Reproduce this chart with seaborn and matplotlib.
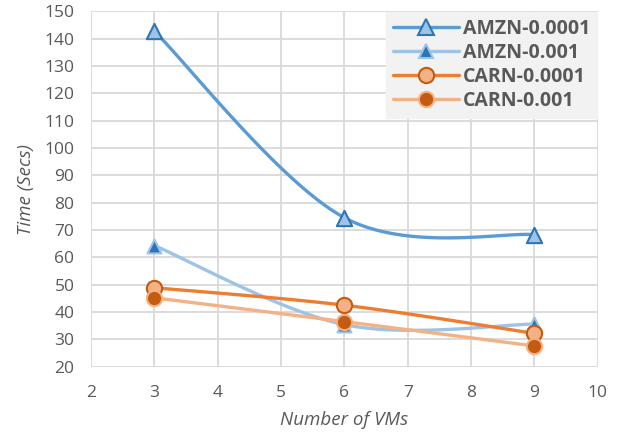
import numpy as np
import pandas as pd
import matplotlib
matplotlib.use("Agg")
import matplotlib.pyplot as plt
from matplotlib.lines import Line2D
import seaborn as sns

# ---- data ----
vms = [3, 6, 9]
series_names = ["AMZN-0.0001", "AMZN-0.001", "CARN-0.0001", "CARN-0.001"]
amzn_0001 = [142.7, 74.5, 68.3]
amzn_001 = [64.3, 35.4, 35.6]
carn_0001 = [48.9, 42.5, 32.2]
carn_001 = [45.2, 36.5, 27.6]
x_ticks = [2, 3, 4, 5, 6, 7, 8, 9, 10]
y_ticks = list(range(20, 151, 10))

values = [amzn_0001, amzn_001, carn_0001, carn_001]

styles = {
    "AMZN-0.0001": dict(line="#5B9BD5", marker="^", face="#9DC3E6", edge="#2E75B6", ms=11),
    "AMZN-0.001": dict(line="#9DC3E6", marker="^", face="#2E75B6", edge="#9DC3E6", ms=10),
    "CARN-0.0001": dict(line="#ED7D31", marker="o", face="#F4B183", edge="#C55A11", ms=11),
    "CARN-0.001": dict(line="#F4B183", marker="o", face="#C55A11", edge="#F4B183", ms=11),
}


def excel_smooth(xs, ys, n=60):
    """Catmull-Rom style Bezier smoothing like Excel's smoothed line."""
    pts = np.column_stack([xs, ys]).astype(float)
    m = len(pts)
    out = []
    for i in range(m - 1):
        p0 = pts[max(i - 1, 0)]
        p1 = pts[i]
        p2 = pts[i + 1]
        p3 = pts[min(i + 2, m - 1)]
        c1 = p1 + (p2 - p0) / 6.0
        c2 = p2 - (p3 - p1) / 6.0
        t = np.linspace(0, 1, n)[:, None]
        seg = ((1 - t) ** 3) * p1 + 3 * ((1 - t) ** 2) * t * c1 + 3 * (1 - t) * t ** 2 * c2 + t ** 3 * p2
        if i > 0:
            seg = seg[1:]
        out.append(seg)
    arr = np.vstack(out)
    return arr[:, 0], arr[:, 1]


sns.set_theme(style="white")
plt.rcParams["font.family"] = ["Open Sans", "DejaVu Sans"]

fig = plt.figure(figsize=(6.24, 4.33), dpi=100)
ax = fig.add_axes([0.146, 0.153, 0.812, 0.821])

text_color = "#595959"
grid_color = "#D9D9D9"

handles = []
for name, ys in zip(series_names, values):
    st = styles[name]
    sx, sy = excel_smooth(vms, ys)
    curve = pd.DataFrame({"x": sx, "y": sy, "i": np.arange(len(sx))})
    sns.lineplot(data=curve, x="x", y="y", sort=False, estimator=None,
                 color=st["line"], linewidth=2.4, ax=ax, zorder=3)
    pts = pd.DataFrame({"x": vms, "y": ys})
    sns.scatterplot(data=pts, x="x", y="y", marker=st["marker"], s=st["ms"] ** 2,
                    color=st["face"], edgecolor=st["edge"], linewidth=1.5, ax=ax, zorder=4)
    handles.append(Line2D([0], [0], color=st["line"], linewidth=2.4, marker=st["marker"],
                          markersize=st["ms"], markerfacecolor=st["face"],
                          markeredgecolor=st["edge"], markeredgewidth=1.5, label=name))

ax.set_xlim(2, 10)
ax.set_ylim(20, 150)
ax.set_xticks(x_ticks)
ax.set_yticks(y_ticks)
ax.grid(True, color=grid_color, linewidth=1.3)
ax.set_axisbelow(True)
for sp in ax.spines.values():
    sp.set_visible(False)
ax.tick_params(axis="both", length=0, labelsize=12.5, colors=text_color)
ax.tick_params(axis="x", pad=13)
ax.tick_params(axis="y", pad=12)

ax.set_xlabel("Number of VMs", fontsize=13.5, style="italic", color=text_color, labelpad=7)
ax.set_ylabel("Time (Secs)", fontsize=13.5, style="italic", color=text_color, labelpad=7)

leg = ax.legend(handles=handles, loc="upper right", bbox_to_anchor=(1.0, 1.0),
                frameon=True, fancybox=False, facecolor="#F2F2F2", edgecolor="#F2F2F2",
                framealpha=1.0, handlelength=3.4, handletextpad=0.2, borderpad=0.35,
                labelspacing=0.2, prop={"size": 14, "weight": "bold"}, borderaxespad=0.05)
for t in leg.get_texts():
    t.set_color(text_color)

fig.savefig("out.png", dpi=100, facecolor="white")
